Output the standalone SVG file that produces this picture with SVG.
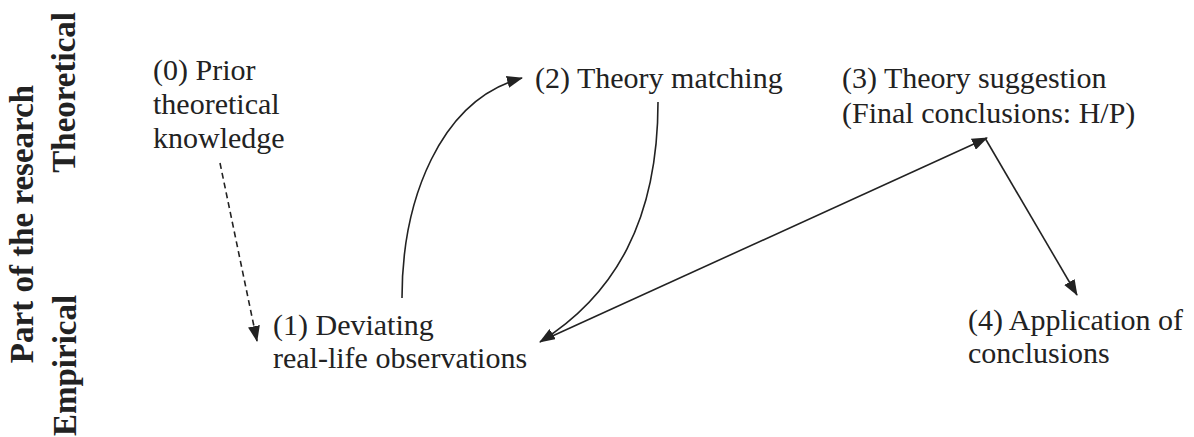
<svg xmlns="http://www.w3.org/2000/svg" width="1194" height="437" viewBox="0 0 1194 437">
<style>
.axis{font-family:"Liberation Serif","Times New Roman",serif;font-weight:bold;font-size:33px;fill:#222}
.node{font-family:"Liberation Serif","Times New Roman",serif;font-size:30px;fill:#222}
.edge{fill:none;stroke:#222;stroke-width:1.6}
.dash{stroke-dasharray:6 4}
</style>
<defs>
<marker id="arr" viewBox="0 0 16 12" refX="15" refY="6" markerWidth="16" markerHeight="12" markerUnits="userSpaceOnUse" orient="auto">
<path d="M0,0 L16,6 L0,12 Z" fill="#222"/>
</marker>
</defs>
<rect width="1194" height="437" fill="#fff"/>
<g id="axis-labels">
<text class="axis" transform="translate(33,224) rotate(-90)" text-anchor="middle">Part of the research</text>
<text class="axis" transform="translate(75,12) rotate(-90)" text-anchor="end">Theoretical</text>
<text class="axis" transform="translate(76,436) rotate(-90)" text-anchor="start">Empirical</text>
</g>
<g id="node0"><text class="node" x="153" y="80">(0) Prior</text><text class="node" x="153" y="114">theoretical</text><text class="node" x="153" y="148">knowledge</text></g>
<g id="node1"><text class="node" x="273" y="335">(1) Deviating</text><text class="node" x="273" y="368">real-life observations</text></g>
<g id="node2"><text class="node" x="535" y="88">(2) Theory matching</text></g>
<g id="node3"><text class="node" x="842" y="88">(3) Theory suggestion</text><text class="node" x="842" y="123">(Final conclusions: H/P)</text></g>
<g id="node4"><text class="node" x="968" y="330">(4) Application of</text><text class="node" x="968" y="363">conclusions</text></g>
<g id="connectors">
<path class="edge dash" d="M220,163 L257,341" marker-end="url(#arr)"/>
<path class="edge" d="M402,298 C402,200 440,100 522,78" marker-end="url(#arr)"/>
<path class="edge" d="M658,102 C658,220 615,295 540,342" marker-end="url(#arr)"/>
<path class="edge" d="M548,338 L987,138" marker-end="url(#arr)"/>
<path class="edge" d="M985,138 L1077,295" marker-end="url(#arr)"/>
</g>
</svg>
